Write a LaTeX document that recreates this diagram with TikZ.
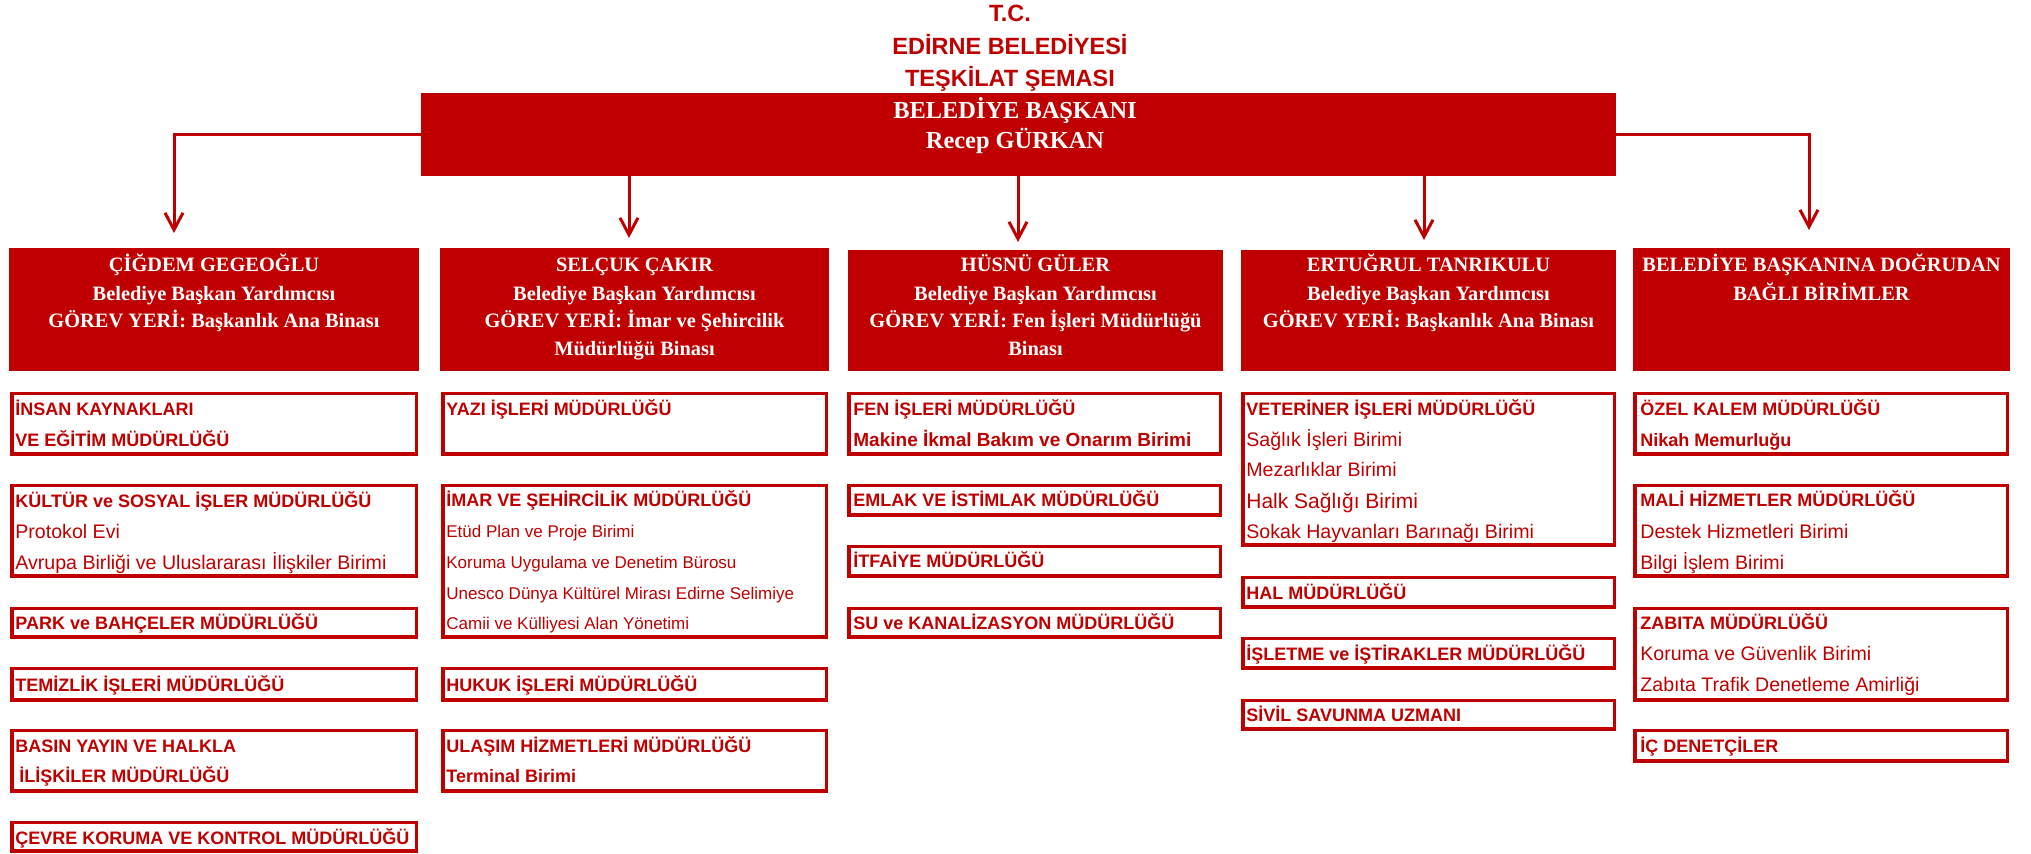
\documentclass[tikz,border=0pt]{standalone}
\usepackage{fontspec}
\setmainfont{Liberation Serif}
\newfontfamily\arialf{Liberation Sans}
\usetikzlibrary{arrows.meta,fit}
\definecolor{rd}{RGB}{192,0,0}
\begin{document}
\begin{tikzpicture}[x=0.5pt,y=-0.5pt,
  hdr/.style={fill=rd, inner sep=0pt, draw=none},
  obox/.style={draw=rd, line width=1.75pt, inner sep=-0.875pt},
  arr/.style={draw=rd, line width=1.5pt, -{Straight Barb[length=8.5pt,width=9pt,line width=1.5pt]}},
  ttl/.style={anchor=base, inner sep=0pt, text=rd, font=\arialf\bfseries\fontsize{11.75}{14}\selectfont},
  bos/.style={anchor=base, inner sep=0pt, text=white, font=\bfseries\fontsize{12.2}{14}\selectfont},
  ht/.style={anchor=base, inner sep=0pt, text=white, font=\bfseries\fontsize{10.2}{12}\selectfont},
  lb/.style={anchor=base west, inner sep=0pt, text=rd, font=\arialf\bfseries\fontsize{9}{11}\selectfont},
  lbm/.style={anchor=base west, inner sep=0pt, text=rd, font=\arialf\bfseries\fontsize{9.5}{11}\selectfont},
  lr/.style={anchor=base west, inner sep=0pt, text=rd, font=\arialf\fontsize{9.8}{11}\selectfont},
  lrb/.style={anchor=base west, inner sep=0pt, text=rd, font=\arialf\fontsize{10.5}{12}\selectfont},
  ls/.style={anchor=base west, inner sep=0pt, text=rd, font=\arialf\fontsize{8.5}{10}\selectfont},
]
\useasboundingbox (0,0) rectangle (2031,854);

% title
\node[ttl] (tt1) at (1010,21.4) {T.C.};
\node[ttl] (tt2) at (1010,54.7) {EDİRNE BELEDİYESİ};
\node[ttl] (tt3) at (1010,86.1) {TEŞKİLAT ŞEMASI};

% main box
\node[hdr, fit={(421,93) (1616,176)}] (boss) {};
\node[bos] (bt1) at (1015,119) {BELEDİYE BAŞKANI};
\node[bos] (bt2) at (1015,149) {Recep GÜRKAN};

% header boxes
\node[hdr, fit={(9,248) (419,371)}] (h1) {};
\node[hdr, fit={(440,248) (829,371)}] (h2) {};
\node[hdr, fit={(848,250) (1223,371)}] (h3) {};
\node[hdr, fit={(1241,250) (1616,371)}] (h4) {};
\node[hdr, fit={(1633,248) (2010,371)}] (h5) {};

\node[ht] (h1a) at (214,271.75) {ÇİĞDEM GEGEOĞLU};
\node[ht] (h1b) at (214,300.25) {Belediye Başkan Yardımcısı};
\node[ht] (h1c) at (214,327.75) {GÖREV YERİ: Başkanlık Ana Binası};

\node[ht] (h2a) at (634.5,271.75) {SELÇUK ÇAKIR};
\node[ht] (h2b) at (634.5,300.25) {Belediye Başkan Yardımcısı};
\node[ht] (h2c) at (634.5,327.75) {GÖREV YERİ: İmar ve Şehircilik};
\node[ht] (h2d) at (634.5,355.25) {Müdürlüğü Binası};

\node[ht] (h3a) at (1035.5,271.75) {HÜSNÜ GÜLER};
\node[ht] (h3b) at (1035.5,300.25) {Belediye Başkan Yardımcısı};
\node[ht] (h3c) at (1035.5,327.75) {GÖREV YERİ: Fen İşleri Müdürlüğü};
\node[ht] (h3d) at (1035.5,355.25) {Binası};

\node[ht] (h4a) at (1428.5,271.75) {ERTUĞRUL TANRIKULU};
\node[ht] (h4b) at (1428.5,300.25) {Belediye Başkan Yardımcısı};
\node[ht] (h4c) at (1428.5,327.75) {GÖREV YERİ: Başkanlık Ana Binası};

\node[ht] (h5a) at (1821.5,271.75) {BELEDİYE BAŞKANINA DOĞRUDAN};
\node[ht] (h5b) at (1821.5,300.25) {BAĞLI BİRİMLER};

% connectors
\coordinate (a1) at (174,233);
\coordinate (a2) at (629,238);
\coordinate (a3) at (1018,242);
\coordinate (a4) at (1424,240);
\coordinate (a5) at (1809,230);
\draw[arr] (boss.west) -| (a1);
\draw[arr] (boss.south -| a2) -- (a2);
\draw[arr] (boss.south -| a3) -- (a3);
\draw[arr] (boss.south -| a4) -- (a4);
\draw[arr] (boss.east) -| (a5);

% column 1
\node[obox, fit={(10,392) (418,456)}] (b11) {};
\node[lb] (t11a) at (15,415.5) {İNSAN KAYNAKLARI};
\node[lb] (t11b) at (15,446.5) {VE EĞİTİM MÜDÜRLÜĞÜ};
\node[obox, fit={(10,484) (418,578)}] (b12) {};
\node[lb] (t12a) at (15,507.5) {KÜLTÜR ve SOSYAL İŞLER MÜDÜRLÜĞÜ};
\node[lr] (t12b) at (15,539) {Protokol Evi};
\node[lr] (t12c) at (15,570) {Avrupa Birliği ve Uluslararası İlişkiler Birimi};
\node[obox, fit={(10,607) (418,639)}] (b13) {};
\node[lb] (t13a) at (15,629.5) {PARK ve BAHÇELER MÜDÜRLÜĞÜ};
\node[obox, fit={(10,667) (418,702)}] (b14) {};
\node[lb] (t14a) at (15,691.5) {TEMİZLİK İŞLERİ MÜDÜRLÜĞÜ};
\node[obox, fit={(10,729) (418,793)}] (b15) {};
\node[lb] (t15a) at (15,753) {BASIN YAYIN VE HALKLA};
\node[lb] (t15b) at (19,783) {İLİŞKİLER MÜDÜRLÜĞÜ};
\node[obox, fit={(10,821) (418,853)}] (b16) {};
\node[lb] (t16a) at (15,844.8) {ÇEVRE KORUMA VE KONTROL MÜDÜRLÜĞÜ};

% column 2
\node[obox, fit={(441,392) (828,456)}] (b21) {};
\node[lb] (t21a) at (446,415.5) {YAZI İŞLERİ MÜDÜRLÜĞÜ};
\node[obox, fit={(441,484) (828,639)}] (b22) {};
\node[lb] (t22a) at (446,507) {İMAR VE ŞEHİRCİLİK MÜDÜRLÜĞÜ};
\node[ls] (t22b) at (446,538) {Etüd Plan ve Proje Birimi};
\node[ls] (t22c) at (446,569) {Koruma Uygulama ve Denetim Bürosu};
\node[ls] (t22d) at (446,599.5) {Unesco Dünya Kültürel Mirası Edirne Selimiye};
\node[ls] (t22e) at (446,630) {Camii ve Külliyesi Alan Yönetimi};
\node[obox, fit={(441,667) (828,702)}] (b23) {};
\node[lb] (t23a) at (446,691.5) {HUKUK İŞLERİ MÜDÜRLÜĞÜ};
\node[obox, fit={(441,729) (828,793)}] (b24) {};
\node[lb] (t24a) at (446,752.5) {ULAŞIM HİZMETLERİ MÜDÜRLÜĞÜ};
\node[lb] (t24b) at (446,783) {Terminal Birimi};

% column 3
\node[obox, fit={(847,392) (1222,456)}] (b31) {};
\node[lb] (t31a) at (853,415.5) {FEN İŞLERİ MÜDÜRLÜĞÜ};
\node[lbm] (t31b) at (853,446.8) {Makine İkmal Bakım ve Onarım Birimi};
\node[obox, fit={(847,484) (1222,517)}] (b32) {};
\node[lb] (t32a) at (853,507) {EMLAK VE İSTİMLAK MÜDÜRLÜĞÜ};
\node[obox, fit={(847,545) (1222,578)}] (b33) {};
\node[lb] (t33a) at (853,568) {İTFAİYE MÜDÜRLÜĞÜ};
\node[obox, fit={(847,607) (1222,639)}] (b34) {};
\node[lb] (t34a) at (853,630) {SU ve KANALİZASYON MÜDÜRLÜĞÜ};

% column 4
\node[obox, fit={(1241,392) (1616,547)}] (b41) {};
\node[lb] (t41a) at (1246,415.5) {VETERİNER İŞLERİ MÜDÜRLÜĞÜ};
\node[lr] (t41b) at (1246,447) {Sağlık İşleri Birimi};
\node[lr] (t41c) at (1246,477) {Mezarlıklar Birimi};
\node[lrb] (t41d) at (1246,509) {Halk Sağlığı Birimi};
\node[lr] (t41e) at (1246,539) {Sokak Hayvanları Barınağı Birimi};
\node[obox, fit={(1241,576) (1616,609)}] (b42) {};
\node[lb] (t42a) at (1246,600) {HAL MÜDÜRLÜĞÜ};
\node[obox, fit={(1241,637) (1616,670)}] (b43) {};
\node[lb] (t43a) at (1246,660.5) {İŞLETME ve İŞTİRAKLER MÜDÜRLÜĞÜ};
\node[obox, fit={(1241,699) (1616,731)}] (b44) {};
\node[lb] (t44a) at (1246,721.5) {SİVİL SAVUNMA UZMANI};

% column 5
\node[obox, fit={(1633,392) (2009,456)}] (b51) {};
\node[lb] (t51a) at (1640,415.5) {ÖZEL KALEM MÜDÜRLÜĞÜ};
\node[lb] (t51b) at (1640,446.5) {Nikah Memurluğu};
\node[obox, fit={(1633,484) (2009,578)}] (b52) {};
\node[lb] (t52a) at (1640,507) {MALİ HİZMETLER MÜDÜRLÜĞÜ};
\node[lr] (t52b) at (1640,538.7) {Destek Hizmetleri Birimi};
\node[lr] (t52c) at (1640,569.7) {Bilgi İşlem Birimi};
\node[obox, fit={(1633,607) (2009,702)}] (b53) {};
\node[lb] (t53a) at (1640,629.5) {ZABITA MÜDÜRLÜĞÜ};
\node[lr] (t53b) at (1640,661) {Koruma ve Güvenlik Birimi};
\node[lr] (t53c) at (1640,692) {Zabıta Trafik Denetleme Amirliği};
\node[obox, fit={(1633,729) (2009,763)}] (b54) {};
\node[lb] (t54a) at (1640,752.5) {İÇ DENETÇİLER};
\end{tikzpicture}
\end{document}
